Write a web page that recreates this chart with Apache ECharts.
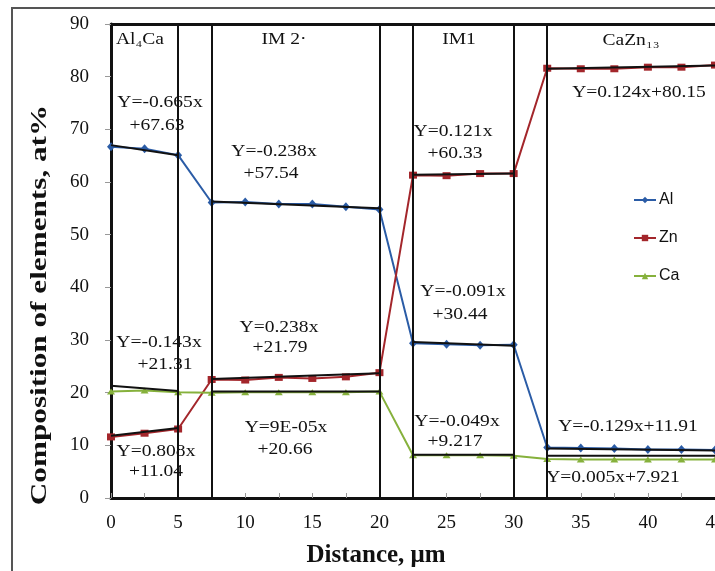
<!DOCTYPE html>
<html>
<head>
<meta charset="utf-8">
<script src="https://cdn.jsdelivr.net/npm/echarts@6/dist/echarts.min.js"></script>
<style>
  html, body { margin: 0; padding: 0; background: #fff; }
  #chart { width: 715px; height: 571px; }
</style>
</head>
<body>
<div id="chart"></div>
<script>
// Measured composition profile across the diffusion layers
const distance = [0, 2.5, 5, 7.5, 10, 12.5, 15, 17.5, 20, 22.5, 25, 27.5, 30, 32.5, 35, 37.5, 40, 42.5, 45];
const al = [66.7, 66.3, 65.1, 56.1, 56.2, 55.8, 55.8, 55.3, 54.8, 29.4, 29.2, 29.0, 29.1, 9.6, 9.5, 9.4, 9.2, 9.2, 9.1];
const zn = [11.6, 12.3, 13.1, 22.5, 22.4, 22.9, 22.7, 23.0, 23.8, 61.3, 61.2, 61.6, 61.6, 81.6, 81.5, 81.5, 81.8, 81.8, 82.2];
const ca = [20.2, 20.4, 20.1, 20.0, 20.1, 20.1, 20.1, 20.1, 20.2, 8.1, 8.1, 8.1, 8.0, 7.4, 7.3, 7.3, 7.3, 7.3, 7.3];

// Phase boundaries and the x-extent of each phase
const boundaries = [5, 7.5, 20, 22.5, 30, 32.5];
const segStart = [0, 7.5, 22.5, 32.5];
const segEnd = [5, 20, 30, 45];

// Linear trend values at the start and end of each phase
const alTrend = [[67.0, 65.1], [56.3, 55.0], [29.6, 28.9], [9.4, 9.0]];
const znTrend = [[11.8, 13.3], [22.6, 23.7], [61.4, 61.6], [81.5, 82.1]];
const caTrend = [[21.3, 20.3], [20.2, 20.2], [8.2, 8.2], [8.0, 8.0]];

const elements = ['Al', 'Zn', 'Ca'];
const xTicks = { min: 0, max: 45, interval: 5 };
const yTicks = { min: 0, max: 90, interval: 10 };

// Phase names and fitted equations (text, centre position in px)
const phaseLabels = [
  ['Al₄Ca', 140, 40], ['IM 2·', 284, 40], ['IM1', 459, 40], ['CaZn₁₃', 631, 41]
];
const equationLabels = [
  ['Y=-0.665x', 160, 103], ['+67.63', 157, 126],
  ['Y=-0.238x', 274, 152], ['+57.54', 271, 174],
  ['Y=0.121x', 453, 132], ['+60.33', 455, 154],
  ['Y=0.124x+80.15', 639, 93],
  ['Y=-0.091x', 463, 292], ['+30.44', 460, 315],
  ['Y=-0.143x', 159, 343], ['+21.31', 165, 365],
  ['Y=0.238x', 279, 328], ['+21.79', 280, 348],
  ['Y=0.808x', 156, 452], ['+11.04', 156, 472],
  ['Y=9E-05x', 286, 428], ['+20.66', 285, 450],
  ['Y=-0.049x', 457, 422], ['+9.217', 455, 442],
  ['Y=-0.129x+11.91', 628, 427],
  ['Y=0.005x+7.921', 613, 478]
];

const colors = { Al: '#2b5ca6', Zn: '#a3262b', Ca: '#86b13c' };
const serif = '"Liberation Serif", "Times New Roman", serif';

function pairs(values) {
  return distance.map((d, i) => [d, values[i]]);
}

const dataSeries = [
  { name: 'Al', values: al, symbol: 'diamond', size: [8, 9] },
  { name: 'Zn', values: zn, symbol: 'rect', size: [8, 7] },
  { name: 'Ca', values: ca, symbol: 'triangle', size: [8, 6] }
].map(s => ({
  name: s.name,
  type: 'line',
  data: pairs(s.values),
  symbol: s.symbol,
  symbolSize: s.size,
  showSymbol: true,
  color: colors[s.name],
  lineStyle: { width: 2, color: colors[s.name] },
  itemStyle: { color: colors[s.name] },
  z: 3,
  animation: false
}));

const trendSeries = [];
[['Al', alTrend], ['Zn', znTrend], ['Ca', caTrend]].forEach(([name, trend]) => {
  trend.forEach((ends, k) => {
    trendSeries.push({
      name: name + ' fit ' + (k + 1),
      type: 'line',
      data: [[segStart[k], ends[0]], [segEnd[k], ends[1]]],
      symbol: 'none',
      lineStyle: { width: 2, color: '#111' },
      z: 4,
      silent: true,
      animation: false
    });
  });
});

const boundarySeries = {
  name: 'phase boundaries',
  type: 'line',
  data: [],
  z: 1,
  animation: false,
  markLine: {
    silent: true,
    symbol: ['none', 'none'],
    label: { show: false },
    lineStyle: { color: '#111', width: 2, type: 'solid' },
    data: boundaries.map(v => ({ xAxis: v }))
  }
};

function textEl(t, x, y, opts) {
  return Object.assign({
    type: 'text',
    x: x, y: y,
    scaleX: 1.22,
    z: 10,
    silent: true,
    style: {
      text: t,
      fill: '#111',
      font: '16px ' + serif,
      align: 'center', verticalAlign: 'middle',
      textAlign: 'center', textVerticalAlign: 'middle'
    }
  }, opts || {});
}

const graphics = [
  {
    type: 'rect', z: 0, silent: true,
    shape: { x: 12, y: 8, width: 760, height: 620 },
    style: { fill: 'none', stroke: '#555', lineWidth: 2 }
  }
];
phaseLabels.forEach(([t, x, y]) => graphics.push(textEl(t, x, y)));
equationLabels.forEach(([t, x, y]) => graphics.push(textEl(t, x, y)));
// axis titles
graphics.push(textEl('Composition of elements, at%', 40, 305, {
  rotation: Math.PI / 2, scaleX: 1.3,
  style: { text: 'Composition of elements, at%', fill: '#111', font: 'bold 24px ' + serif,
           align: 'center', verticalAlign: 'middle', textAlign: 'center', textVerticalAlign: 'middle' }
}));
graphics.push(textEl('Distance, μm', 376, 556, {
  scaleX: 1,
  style: { text: 'Distance, μm', fill: '#111', font: 'bold 25px ' + serif,
           align: 'center', verticalAlign: 'middle', textAlign: 'center', textVerticalAlign: 'middle' }
}));

const chart = echarts.init(document.getElementById('chart'), null, { renderer: 'canvas' });
chart.setOption({
  animation: false,
  backgroundColor: '#fff',
  grid: { left: 111, right: 0, top: 24, bottom: 73, containLabel: false, outerBoundsMode: 'none' },
  legend: {
    data: elements,
    orient: 'vertical',
    left: 628,
    top: 187,
    itemWidth: 22,
    itemHeight: 8,
    itemGap: 22,
    textStyle: { fontFamily: '"Liberation Sans", Arial, sans-serif', fontSize: 16, color: '#111', padding: [0, 0, 0, -2] }
  },
  xAxis: [
    {
      type: 'value',
      min: xTicks.min, max: xTicks.max, interval: xTicks.interval,
      axisLine: { show: true, lineStyle: { color: '#111', width: 3 } },
      axisTick: { show: true, inside: true, length: 5, lineStyle: { color: '#999' } },
      minorTick: { show: true, splitNumber: 2, length: 5, lineStyle: { color: '#999' } },
      splitLine: { show: false },
      axisLabel: { fontFamily: serif, fontSize: 19, color: '#111', margin: 16, showMaxLabel: true }
    },
    {
      type: 'value',
      position: 'top',
      min: xTicks.min, max: xTicks.max, interval: xTicks.interval,
      axisLine: { show: true, lineStyle: { color: '#111', width: 3 } },
      axisTick: { show: false },
      axisLabel: { show: false },
      splitLine: { show: false }
    }
  ],
  yAxis: {
    type: 'value',
    min: yTicks.min, max: yTicks.max, interval: yTicks.interval,
    axisLine: { show: true, lineStyle: { color: '#111', width: 3 } },
    axisTick: { show: true, inside: false, length: 6, lineStyle: { color: '#999' } },
    splitLine: { show: false },
    axisLabel: { fontFamily: serif, fontSize: 19, color: '#111', margin: 22 }
  },
  graphic: graphics,
  series: [boundarySeries].concat(dataSeries, trendSeries)
});
</script>
</body>
</html>
